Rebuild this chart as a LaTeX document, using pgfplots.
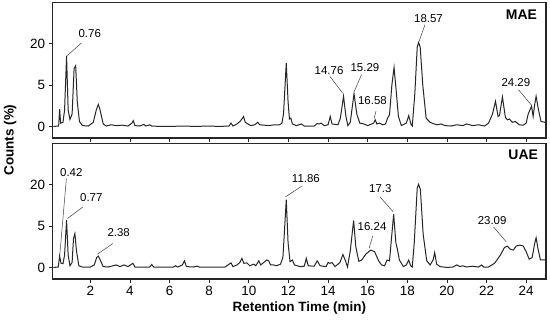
\documentclass[border=0pt]{standalone}
\usepackage{fontspec}
\setmainfont{Liberation Sans}
\usepackage{pgfplots}
\pgfplotsset{compat=1.18}
\begin{document}
\begin{tikzpicture}
\path[use as bounding box] (-52.7bp,-44bp) rectangle (497.3bp,279bp);
\pgfplotsset{
 chrom/.style={scale only axis, width=493.3bp, height=135.5bp,
  xmin=0.1, xmax=25, ymin=-1.4, ymax=15,
  xtick={2,4,...,24}, ytick={0,5,10}, yticklabels={0,5,20},
  tick align=outside, xtick pos=bottom, ytick pos=left,
  major tick length=4bp,
  axis line style={line width=1.1pt, black!85},
  tick style={line width=0.7pt, black!85},
  tick label style={font=\fontsize{13.5}{15}\selectfont},
  /pgf/number format/assume math mode=true}
}
\tikzset{
 trace/.style={line width=1bp, black!85, mark=none},
 ann/.style={font=\fontsize{11.5}{13}\selectfont, inner sep=0pt},
 lead/.style={line width=0.5bp, black!75},
 ttl/.style={font=\bfseries\fontsize{14}{16}\selectfont, inner sep=0pt, anchor=north east}
}
% ---------- top panel: MAE ----------
\begin{axis}[chrom, at={(0,141bp)}, anchor=south west, xticklabels={}]
\addplot[trace] coordinates {
(0.13,0) (0.40,0.05) (0.45,2.1) (0.50,0.4) (0.62,0.5) (0.70,2) (0.80,8.5) (0.88,2) (0.97,0.85) (1.08,1.5) (1.18,7.0) (1.26,7.35) (1.34,3) (1.45,0.6) (1.6,0.1) (1.9,0.05) (2.15,0.5) (2.30,2.0) (2.40,2.65) (2.48,2.1) (2.65,0.3) (2.8,0.05) (3.05,0.2) (3.3,0.1) (3.6,0.15) (3.9,0.05) (4.1,0.4) (4.17,0.7) (4.25,0.1) (4.5,0.05) (4.7,0.25) (4.8,0.05) (5.0,0.2) (5.1,0.05) (5.5,0) (6.0,0) (6.7,0.05) (7.3,0) (8,0.05) (8.5,0) (9.0,0.05) (9.1,0.4) (9.2,0.05) (9.4,0.3) (9.55,0.6) (9.65,0.9) (9.73,1.2) (9.82,0.5) (9.95,0.3) (10.1,0.1) (10.3,0.2) (10.45,0.5) (10.55,0.2) (10.8,0.15) (11.0,0.1) (11.3,0.2) (11.55,0.2) (11.67,0.4) (11.75,1.5) (11.89,7.67) (11.98,3) (12.05,0.9) (12.12,1.0) (12.2,0.3) (12.4,0.1) (12.65,0.3) (12.8,0.05) (13.3,0.05) (13.45,0.35) (13.55,0.3) (13.65,0.4) (13.8,0.1) (14.0,0.2) (14.11,1.2) (14.2,0.3) (14.5,0.2) (14.62,1.0) (14.78,3.65) (14.9,1.2) (15.0,0.1) (15.12,0.5) (15.31,3.97) (15.45,1.5) (15.6,0.4) (15.8,0.3) (16.0,0.1) (16.3,0.4) (16.38,0.8) (16.46,0.3) (16.6,0.4) (16.75,0.2) (16.9,0.3) (17.0,1.0) (17.1,1.4) (17.22,5) (17.33,7.15) (17.45,4) (17.55,1.2) (17.7,0.1) (17.95,0.4) (18.07,1.3) (18.18,0.3) (18.25,0.05) (18.38,4) (18.5,9.6) (18.57,10.16) (18.65,9.6) (18.78,5) (18.95,1) (19.15,0.5) (19.3,0.35) (19.5,0.2) (19.7,0.3) (19.9,0.1) (20.2,0.05) (20.5,0.2) (20.8,0.1) (21,0.3) (21.3,0.1) (21.6,0.2) (21.9,0.05) (22.1,0.4) (22.3,1.5) (22.45,3.05) (22.58,1.2) (22.65,1.3) (22.8,3.57) (22.95,1.1) (23.05,0.8) (23.15,0.9) (23.3,0.5) (23.45,0.6) (23.65,0.2) (23.85,0.15) (24.0,0.4) (24.1,1.5) (24.27,2.45) (24.35,1.2) (24.42,2.5) (24.5,3.65) (24.62,2) (24.75,0.6) (24.95,0.5) (25,0.5)
};
\node[ann] at (axis cs:1.97,11.2) {0.76};
\draw[lead] (axis cs:0.80,8.5) -- (axis cs:1.55,10.1);
\node[ann] at (axis cs:14.05,6.8) {14.76};
\draw[lead] (axis cs:14.73,4.06) -- (axis cs:14.09,6.06);
\node[ann] at (axis cs:15.86,7.1) {15.29};
\draw[lead] (axis cs:15.32,4.25) -- (axis cs:15.69,6.27);
\node[ann] at (axis cs:16.24,3.13) {16.58};
\draw[lead] (axis cs:16.32,0.96) -- (axis cs:16.42,1.84);
\node[ann] at (axis cs:19.07,13.05) {18.57};
\draw[lead] (axis cs:18.59,10.28) -- (axis cs:18.89,12.3);
\node[ann] at (axis cs:23.48,5.36) {24.29};
\draw[lead] (axis cs:24.28,2.53) -- (axis cs:23.61,4.46);
\node[ttl] at (rel axis cs:0.982,0.945) {MAE};
\end{axis}
% ---------- bottom panel: UAE ----------
\begin{axis}[chrom, at={(0,0)}, anchor=south west,
  xlabel={Retention Time (min)},
  xlabel style={font=\bfseries\fontsize{13.5}{15}\selectfont, at={(axis description cs:0.5,0)}, anchor=center, yshift=-29bp}]
\addplot[trace] coordinates {
(0.13,0) (0.38,0.05) (0.45,1.37) (0.52,0.5) (0.62,0.45) (0.70,1.5) (0.80,5.72) (0.88,1.5) (0.97,0.2) (1.08,0.6) (1.15,3.5) (1.22,4.1) (1.30,2) (1.42,0.2) (1.6,0.05) (2.0,0.05) (2.2,0.3) (2.32,1.2) (2.40,1.37) (2.5,0.9) (2.65,0.1) (2.9,0.05) (3.3,0.3) (3.5,0.1) (3.7,0.3) (3.9,0.1) (4.15,0.5) (4.25,0.05) (5.0,0.05) (5.1,0.35) (5.2,0.05) (6.2,0.05) (6.3,0.2) (6.4,0.05) (6.65,0.3) (6.75,0.8) (6.85,0.1) (7.2,0.05) (7.4,0.15) (7.5,0.05) (8.8,0.05) (9.1,0.55) (9.2,0.1) (9.4,0.3) (9.55,0.6) (9.65,1.1) (9.75,0.5) (9.9,0.55) (10.05,0.2) (10.25,0.4) (10.35,0.2) (10.5,0.8) (10.6,0.3) (10.75,0.6) (10.9,0.9) (11.0,0.8) (11.1,0.3) (11.25,0.3) (11.4,0.2) (11.6,0.4) (11.72,1.2) (11.89,8.2) (11.98,3) (12.08,0.7) (12.2,0.9) (12.3,0.3) (12.6,0.1) (12.8,0.15) (12.9,1.1) (13.0,0.2) (13.3,0.15) (13.45,0.8) (13.6,0.2) (13.9,0.1) (14.0,0.6) (14.1,0.5) (14.2,0.6) (14.35,0.1) (14.6,0.6) (14.75,1.56) (14.88,0.8) (14.98,0.05) (15.12,2) (15.29,5.7) (15.4,2.5) (15.55,0.75) (15.7,0.9) (15.9,1.6) (16.15,2.1) (16.35,1.9) (16.55,0.8) (16.7,0.3) (16.85,0.2) (16.98,0.9) (17.1,0.8) (17.2,3.5) (17.31,6.45) (17.42,3) (17.5,2.2) (17.6,0.9) (17.8,0.1) (17.95,0.3) (18.07,0.9) (18.17,0.2) (18.25,0.05) (18.35,3) (18.5,9.6) (18.57,10.07) (18.66,9.4) (18.8,4) (18.98,0.8) (19.15,0.3) (19.3,0.9) (19.38,1.8) (19.48,0.4) (19.65,0.1) (20.0,0) (20.3,0.05) (20.5,0.3) (20.65,0.1) (20.8,0.2) (21.0,0.05) (21.3,0.15) (21.6,0.05) (21.75,0.3) (21.85,0.05) (22.1,0.05) (22.4,0.5) (22.7,1.5) (22.9,2.4) (23.05,2.58) (23.2,2.2) (23.35,2.1) (23.5,2.6) (23.68,2.7) (23.85,2.6) (24.0,1.9) (24.15,1.0) (24.3,1.2) (24.42,2.8) (24.5,3.6) (24.6,2.2) (24.72,0.9) (25,0.9)
};
\node[ann] at (axis cs:1.04,11.46) {0.42};
\draw[lead] (axis cs:0.45,1.28) -- (axis cs:0.79,10.76);
\node[ann] at (axis cs:2.05,8.44) {0.77};
\draw[lead] (axis cs:0.84,5.92) -- (axis cs:1.63,7.33);
\node[ann] at (axis cs:3.43,4.2) {2.38};
\draw[lead] (axis cs:2.35,1.6) -- (axis cs:3.14,2.9);
\node[ann] at (axis cs:12.88,10.8) {11.86};
\draw[lead] (axis cs:11.85,8.54) -- (axis cs:12.66,9.83);
\node[ann] at (axis cs:16.22,4.91) {16.24};
\draw[lead] (axis cs:16.07,2.3) -- (axis cs:16.25,3.78);
\node[ann] at (axis cs:16.64,9.6) {17.3};
\draw[lead] (axis cs:17.29,6.72) -- (axis cs:16.62,8.54);
\node[ann] at (axis cs:22.28,5.72) {23.09};
\draw[lead] (axis cs:22.99,3.1) -- (axis cs:22.35,4.9);
\node[ttl] at (rel axis cs:0.984,0.952) {UAE};
\end{axis}
\node[rotate=90, font=\bfseries\fontsize{13.5}{15}\selectfont] at (-42.5bp,139bp) {Counts (\%)};
\end{tikzpicture}
\end{document}
